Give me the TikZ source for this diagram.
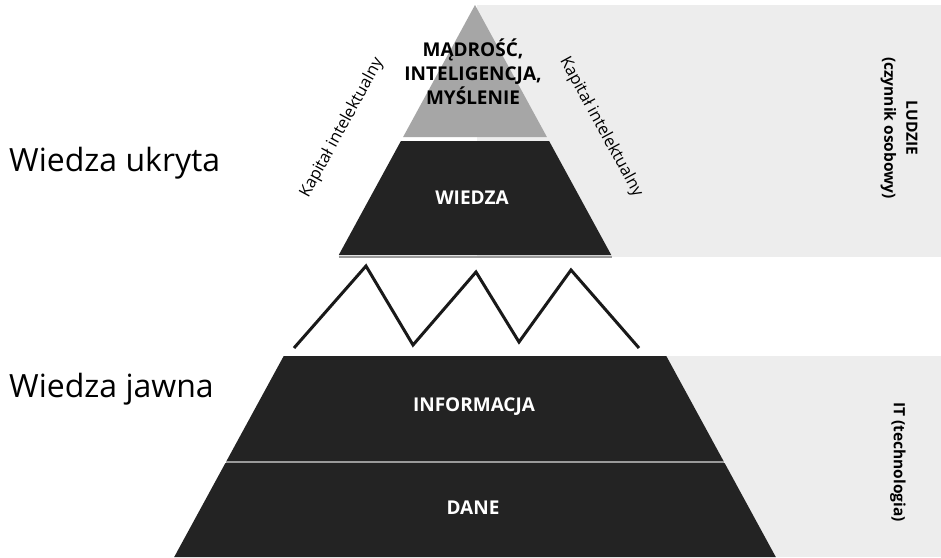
\documentclass[tikz,border=0pt]{standalone}
\usepackage{fontspec}
\setmainfont{Open Sans}
\definecolor{darkfill}{HTML}{232323}
\definecolor{topfill}{HTML}{A6A6A6}
\definecolor{bgfill}{HTML}{EDEDED}
\definecolor{sepline}{HTML}{9A9A9A}
\begin{document}
\begin{tikzpicture}[x=1pt,y=-1pt,
  band/.style={fill=darkfill,draw=none},
  bandlabel/.style={text=white,font=\fontsize{19}{22}\selectfont\bfseries,inner sep=0pt},
  sidelabel/.style={font=\fontsize{32}{38}\selectfont,inner sep=0pt,anchor=base west},
  edgelabel/.style={font=\fontsize{16.5}{19}\selectfont,inner sep=0pt},
  rightlabel/.style={font=\fontsize{15.5}{18}\selectfont\bfseries,inner sep=0pt,rotate=-90,align=center}]
\useasboundingbox (0,0) rectangle (941,557);
\fill[white] (0,0) rectangle (941,557);
% background areas
\fill[bgfill] (477,5) rectangle (941,257);
\fill[bgfill] (600,356) rectangle (941,557);
% pyramid
\fill[topfill] (475,5) -- (546.9,137) -- (403.1,137) -- cycle;
\fill[darkfill] (400.9,141) -- (549.1,141) -- (611.25,255) -- (338.75,255) -- cycle;
\draw[sepline,line width=2pt] (338.5,256.5) -- (611.5,256.5);
\fill[darkfill] (283.7,356) -- (666.3,356) -- (723.5,461) -- (226.5,461) -- cycle;
\draw[sepline,line width=2pt] (226,462) -- (724,462);
\fill[darkfill] (225.4,463) -- (724.6,463) -- (775.8,557) -- (174.2,557) -- cycle;
% zigzag
\draw[line width=3pt,color=black!90] (294,348) -- (366,266) -- (413,345) -- (476,272) -- (519,342) -- (571,270) -- (639,348);
% texts
\node[font=\fontsize{19}{24}\selectfont\bfseries,align=center,inner sep=0pt] (madrosc) at (473,72) {MĄDROŚĆ,\\INTELIGENCJA,\\MYŚLENIE};
\node[bandlabel] (wiedza) at (472,198) {WIEDZA};
\node[bandlabel] (informacja) at (474,407) {INFORMACJA};
\node[bandlabel] (dane) at (473,508) {DANE};
\node[sidelabel] (ukryta) at (9,171) {Wiedza ukryta};
\node[sidelabel] (jawna) at (9,397) {Wiedza jawna};
\node[edgelabel,rotate=61.4] (kapL) at (342,128) {Kapitał intelektualny};
\node[edgelabel,rotate=-61.4] (kapR) at (601,127) {Kapitał intelektualny};
\node[rightlabel] (ludzie) at (899,128) {LUDZIE\\[4pt](czynnik osobowy)};
\node[rightlabel] (it) at (898,462) {IT (technologia)};
\end{tikzpicture}
\end{document}
